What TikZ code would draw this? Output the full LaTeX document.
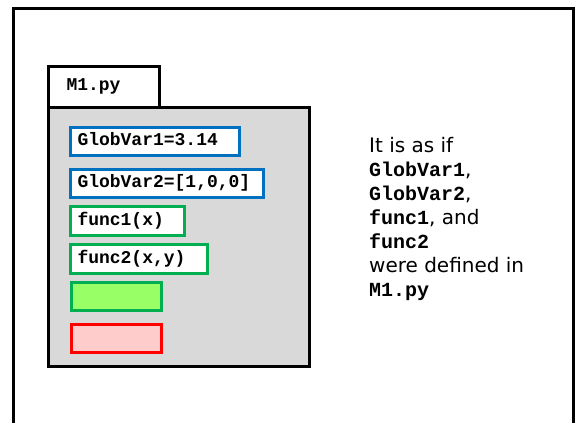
\documentclass[tikz,border=0pt]{standalone}
\usepackage{fontspec}
\setmainfont{DejaVu Sans}
\setmonofont{Liberation Mono}
\usepackage{tikz}
\definecolor{varblue}{RGB}{0, 112, 192}
\definecolor{funcgreen}{RGB}{0, 176, 80}
\definecolor{newgreen}{RGB}{153, 255, 102}
\definecolor{newred}{RGB}{255, 204, 204}
\definecolor{modgray}{RGB}{217, 217, 217}
\newcommand{\pycode}[1]{{\ttfamily\bfseries #1}}
\tikzset{
    frame/.style={line width=3pt},
    tabbox/.style={draw, line width=3pt, fill=white, anchor=north west, outer sep=0pt, inner xsep=18pt, minimum height=40.5pt, align=left, font={\ttfamily\bfseries\fontsize{18}{20}\selectfont}},
    modbox/.style={draw, line width=3pt, fill=modgray, anchor=north west, outer sep=0pt},
    entry/.style={draw, line width=3pt, fill=white, anchor=north west, outer sep=0pt, inner xsep=7pt, inner ysep=0pt, text height=11pt, text depth=3pt, align=left, font={\ttfamily\bfseries\fontsize{18}{20}\selectfont}},
    varbox/.style={entry, draw=varblue, minimum height=28pt},
    funcbox/.style={entry, draw=funcgreen, minimum height=29pt},
    slot/.style={draw, line width=3pt, anchor=north west, outer sep=0pt, minimum width=90pt, minimum height=28pt},
    note/.style={anchor=north west, inner sep=0pt, align=left, font={\fontsize{20}{24}\selectfont}}
}

\begin{document}
\begin{tikzpicture}[x=1pt, y=-1pt]
    \useasboundingbox (0,0) rectangle (579,423);

    % --- SLIDE FRAME ---
    \draw[frame] (13,424) -- (13,8.5) -- (573.5,8.5) -- (573.5,424);

    % --- MODULE M1.py ---
    \node[tabbox, text width=75pt] (tab) at (48.5,66.5) {M1.py};
    \node[modbox, minimum width=261pt, minimum height=259pt] (module) at (48.5,107.5) {};

    % Global variables
    \node[varbox, text width=155pt] (gv1) at (70.5,127.5) {GlobVar1=3.14};
    \node[varbox, text width=179pt] (gv2) at (70.5,169.5) {GlobVar2=[1,0,0]};

    % Functions
    \node[funcbox, text width=100pt] (f1) at (70.5,206.5) {func1(x)};
    \node[funcbox, text width=123pt] (f2) at (70.5,244.5) {func2(x,y)};

    % Empty slots
    \node[slot, draw=funcgreen, fill=newgreen] (slotgreen) at (71.5,282.5) {};
    \node[slot, draw=red, fill=newred] (slotred) at (71.5,324.5) {};

    % --- EXPLANATION ---
    \node[note] (note) at (369,137) {It is as if\\
        \pycode{GlobVar1},\\
        \pycode{GlobVar2},\\
        \pycode{func1}, and\\
        \pycode{func2}\\
        were defined in\\
        \pycode{M1.py}};

\end{tikzpicture}
\end{document}
